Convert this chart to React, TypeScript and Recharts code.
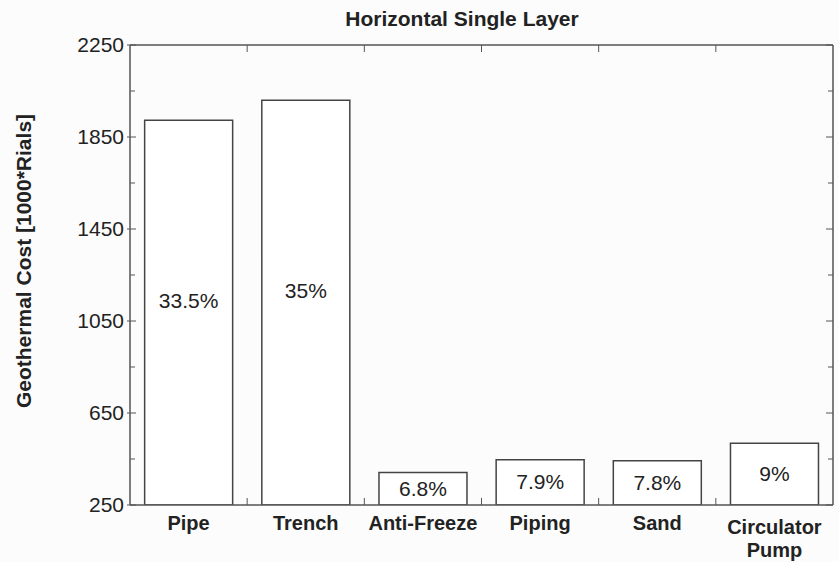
import { ComposedChart, Bar, XAxis, YAxis, LabelList } from 'recharts';

// costs per component (1000*Rials)
const categories = ['Pipe', 'Trench', 'Anti-Freeze', 'Piping', 'Sand', 'Circulator Pump'];
const costs = [1923, 2010, 391, 447, 442, 519];
const shares = ['33.5%', '35%', '6.8%', '7.9%', '7.8%', '9%'];
const majorTicks = [250, 650, 1050, 1450, 1850, 2250];
const allTicks = [250, 450, 650, 850, 1050, 1250, 1450, 1650, 1850, 2050, 2250];

const data = categories.map((name, i) => ({ name, cost: costs[i], share: shares[i] }));

// chart layout
const W = 839;
const H = 562;
const margin = { top: 45, right: 5, left: 60, bottom: 0 };
const yAxisW = 70;
const rightAxisW = 1;
const xAxisH = 57;
const plotW = W - margin.left - margin.right - yAxisW - rightAxisW;
const plotH = H - margin.top - margin.bottom - xAxisH;

const axisColor = '#555';
const font = 'Liberation Sans, Arial, sans-serif';

// left ticks; the top tick also draws the top/right frame and the category boundary marks
function LeftTick(props: any) {
  const { x, y, payload } = props;
  const major = majorTicks.includes(payload.value);
  const isTop = payload.value === allTicks[allTicks.length - 1];
  const band = plotW / categories.length;
  return (
    <g>
      <line x1={major ? x - 3 : x} x2={major ? x + 6 : x + 5} y1={y} y2={y} stroke={axisColor} strokeWidth={1} />
      {major && (
        <text x={x - 6} y={y} dy={7} textAnchor="end" fontSize={21} fill="#222" fontFamily={font}>
          {payload.value}
        </text>
      )}
      {isTop && (
        <g stroke={axisColor}>
          <line x1={x} x2={x + plotW} y1={y} y2={y} strokeWidth={1.5} />
          <line x1={x + plotW} x2={x + plotW} y1={y} y2={y + plotH} strokeWidth={1.5} />
          {categories.slice(1).map((c, i) => (
            <g key={c} strokeWidth={1}>
              <line x1={x + band * (i + 1)} x2={x + band * (i + 1)} y1={y} y2={y + 7} />
              <line x1={x + band * (i + 1)} x2={x + band * (i + 1)} y1={y + plotH} y2={y + plotH - 7} />
            </g>
          ))}
        </g>
      )}
    </g>
  );
}

function RightTick(props: any) {
  const { x, y, payload } = props;
  const major = majorTicks.includes(payload.value);
  return <line x1={x} x2={x - (major ? 7 : 5)} y1={y} y2={y} stroke={axisColor} strokeWidth={1} />;
}

function CategoryTick(props: any) {
  const { x, y, payload } = props;
  const words = payload.value === 'Circulator Pump' ? ['Circulator', 'Pump'] : [payload.value];
  return (
    <text x={x} y={y} textAnchor="middle" fontSize={20} fontWeight="bold" fill="#222" fontFamily={font}>
      {words.map((w, i) => (
        <tspan key={w} x={x} dy={i === 0 ? (words.length > 1 ? 29 : 25) : 23}>
          {w}
        </tspan>
      ))}
    </text>
  );
}

function ShareLabel(props: any) {
  const { x, y, width, height, value } = props;
  const lift = height > 100 ? 12 : 0;
  return (
    <text
      x={x + width / 2}
      y={y + height / 2 - lift}
      dy={7}
      textAnchor="middle"
      fontSize={21}
      fill="#222"
      fontFamily={font}
    >
      {value}
    </text>
  );
}

export default function App() {
  return (
    <div style={{ position: 'absolute', left: 0, top: 0, width: W, height: H, background: '#fcfcfc' }}>
      <ComposedChart width={W} height={H} data={data} margin={margin} barCategoryGap="12.5%">
        <text x={462} y={26} textAnchor="middle" fontSize={21} fontWeight="bold" fill="#222" fontFamily={font}>
          Horizontal Single Layer
        </text>
        <text
          x={31}
          y={261}
          transform="rotate(-90 31 261)"
          textAnchor="middle"
          fontSize={21}
          fontWeight="bold"
          fill="#222"
          fontFamily={font}
        >
          Geothermal Cost  [1000*Rials]
        </text>
        <XAxis
          xAxisId="cat"
          dataKey="name"
          height={xAxisH}
          tickSize={0}
          tickMargin={0}
          tickLine={false}
          axisLine={{ stroke: axisColor, strokeWidth: 1.5 }}
          tick={<CategoryTick />}
          interval={0}
        />
        <YAxis
          yAxisId="l"
          domain={[250, 2250]}
          ticks={allTicks}
          width={yAxisW}
          tickSize={0}
          tickMargin={0}
          tickLine={false}
          axisLine={{ stroke: axisColor, strokeWidth: 1.5 }}
          tick={<LeftTick />}
          allowDataOverflow
        />
        <YAxis
          yAxisId="r"
          orientation="right"
          domain={[250, 2250]}
          ticks={allTicks}
          width={rightAxisW}
          tickSize={0}
          tickMargin={0}
          tickLine={false}
          axisLine={false}
          tick={<RightTick />}
          allowDataOverflow
        />
        <Bar
          dataKey="cost"
          xAxisId="cat"
          yAxisId="l"
          fill="#fff"
          stroke="#444"
          strokeWidth={1.5}
          isAnimationActive={false}
        >
          <LabelList dataKey="share" content={<ShareLabel />} />
        </Bar>
      </ComposedChart>
    </div>
  );
}
